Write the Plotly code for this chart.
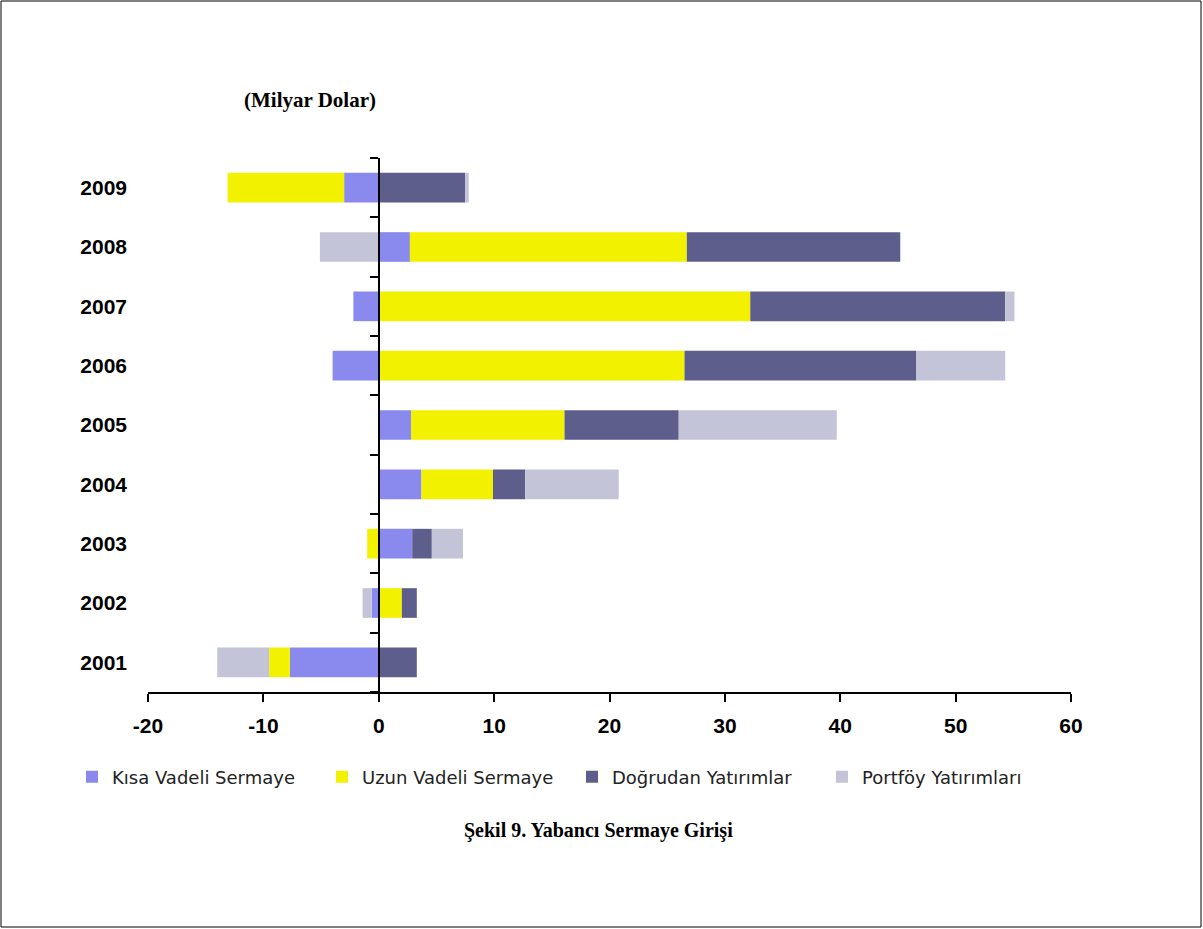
import plotly.graph_objects as go

years = ["2001", "2002", "2003", "2004", "2005", "2006", "2007", "2008", "2009"]
kisa_vadeli = [-7.7, -0.6, 2.9, 3.7, 2.8, -4.0, -2.2, 2.7, -3.0]
uzun_vadeli = [-1.8, 2.0, -1.0, 6.2, 13.3, 26.5, 32.2, 24.0, -10.1]
dogrudan = [3.3, 1.3, 1.7, 2.8, 9.9, 20.1, 22.1, 18.5, 7.5]
portfoy = [-4.5, -0.8, 2.7, 8.1, 13.7, 7.7, 0.8, -5.1, 0.3]

x_tick_vals = [-20, -10, 0, 10, 20, 30, 40, 50, 60]
x_tick_text = ["-20", "-10", "0", "10", "20", "30", "40", "50", "60"]

series = [
    ("Kısa Vadeli Sermaye", kisa_vadeli, "#8a8aee"),
    ("Uzun Vadeli Sermaye", uzun_vadeli, "#f2f200"),
    ("Doğrudan Yatırımlar", dogrudan, "#5e5e8c"),
    ("Portföy Yatırımları", portfoy, "#c4c4d8"),
]

W, H = 1203, 929
L, R, T, B = 148, 132, 158, 237
pw, ph = W - L - R, H - T - B

def px(x):
    return (x - L) / pw

def py(y):
    return (H - B - y) / ph

fig = go.Figure()
for name, vals, col in series:
    fig.add_trace(go.Bar(
        y=years, x=vals, orientation="h", name=name,
        marker=dict(color=col, line=dict(width=0)),
    ))

# invisible helper trace so the overlay axis knows the categories
fig.add_trace(go.Scatter(
    x=[0] * len(years), y=years, yaxis="y2", mode="markers",
    marker=dict(opacity=0), showlegend=False, hoverinfo="skip",
))

tick_font = dict(family="Liberation Sans, Arial", size=21, color="black")

fig.update_layout(
    width=W, height=H,
    margin=dict(l=L, r=R, t=T, b=B),
    barmode="relative",
    bargap=0.5,
    plot_bgcolor="white",
    paper_bgcolor="white",
    xaxis=dict(
        range=[-20, 60], tickmode="array", tickvals=x_tick_vals,
        ticktext=["<b>%s</b>" % t for t in x_tick_text],
        showgrid=False, zeroline=True, zerolinecolor="black", zerolinewidth=1.5,
        showline=True, linecolor="black", linewidth=1.5,
        ticks="outside", ticklen=8, tickcolor="black", tickwidth=1.5,
        tickfont=tick_font, ticklabelstandoff=6,
    ),
    yaxis=dict(
        type="category", categoryorder="array", categoryarray=years,
        range=[-0.5, 8.5], showgrid=False, showline=False, zeroline=False,
        ticks="", tickfont=tick_font, tickprefix="<b>", ticksuffix="</b>",
        ticklabelstandoff=20,
    ),
    yaxis2=dict(
        type="category", categoryorder="array", categoryarray=years,
        range=[-0.5, 8.5], overlaying="y", anchor="free", position=px(378.75),
        side="left", showgrid=False, showline=True, linecolor="black", linewidth=1.5,
        ticks="outside", tickson="boundaries", ticklen=8, tickcolor="black", tickwidth=1.5,
        showticklabels=False, zeroline=False,
    ),
    legend=dict(
        orientation="h", x=px(72), y=py(777), xanchor="left", yanchor="middle",
        font=dict(family="DejaVu Sans, Liberation Sans, Arial", size=18, color="#222"),
        entrywidth=205, entrywidthmode="pixels", itemwidth=30,
        traceorder="normal",
    ),
    showlegend=True,
)

fig.add_annotation(
    text="<b>(Milyar Dolar)</b>", xref="paper", yref="paper",
    x=px(310), y=py(100), xanchor="center", yanchor="middle", showarrow=False,
    font=dict(family="Liberation Serif, Times New Roman", size=21, color="black"),
)
fig.add_annotation(
    text="<b>Şekil 9. Yabancı Sermaye Girişi</b>", xref="paper", yref="paper",
    x=px(598), y=py(830), xanchor="center", yanchor="middle", showarrow=False,
    font=dict(family="Liberation Serif, Times New Roman", size=20, color="black"),
)
fig.add_shape(
    type="rect", xref="paper", yref="paper",
    x0=px(1), x1=px(1201), y0=py(927), y1=py(1),
    line=dict(color="black", width=1),
)

fig.write_html("out.html")
